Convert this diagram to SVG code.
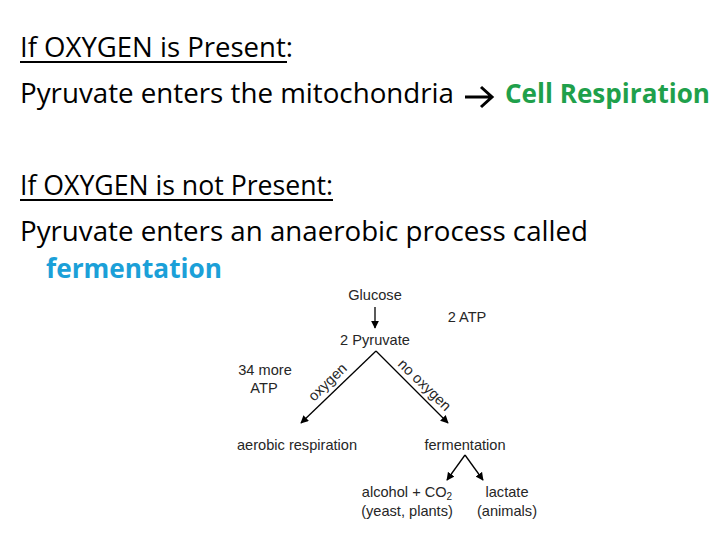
<svg xmlns="http://www.w3.org/2000/svg" width="720" height="540" viewBox="0 0 720 540">
<defs>
<style>
.h{font-family:"Open Sans","Liberation Sans",sans-serif;font-size:26.5px;fill:#000}
.d{font-family:"Liberation Sans",Arial,sans-serif;font-size:14.6px;fill:#262626}
.ln{stroke:#000;stroke-width:1.3;fill:none}
</style>
<marker id="ah" viewBox="0 0 10 10" refX="9" refY="5" markerWidth="8" markerHeight="8" orient="auto" markerUnits="userSpaceOnUse">
<path d="M0,0 L10,5 L0,10 z" fill="#000"/>
</marker>
</defs>
<rect width="720" height="540" fill="#fff"/>
<g id="heading1">
<text class="h" x="20" y="57" textLength="273" lengthAdjust="spacingAndGlyphs">If OXYGEN is Present:</text>
<line x1="20" y1="62" x2="287" y2="62" stroke="#000" stroke-width="1.8"/>
</g>
<g id="line2">
<text class="h" x="20" y="103" textLength="434" lengthAdjust="spacingAndGlyphs">Pyruvate enters the mitochondria</text>
<path d="M465,97 H492 M481,87 L492,97 L481,107" stroke="#000" stroke-width="3" fill="none"/>
<text class="h" x="505" y="103" textLength="205" lengthAdjust="spacingAndGlyphs" style="font-weight:bold;fill:#1fa04b">Cell Respiration</text>
</g>
<g id="heading2">
<text class="h" x="20" y="195" textLength="313" lengthAdjust="spacingAndGlyphs">If OXYGEN is not Present:</text>
<line x1="20" y1="200" x2="333" y2="200" stroke="#000" stroke-width="1.8"/>
</g>
<g id="line4">
<text class="h" x="20" y="241" textLength="568" lengthAdjust="spacingAndGlyphs">Pyruvate enters an anaerobic process called</text>
<text class="h" x="46" y="278" textLength="176" lengthAdjust="spacingAndGlyphs" style="font-weight:bold;fill:#1ba0d8">fermentation</text>
</g>
<g id="glucose"><text class="d" x="375" y="300" text-anchor="middle">Glucose</text></g>
<g id="atp2"><text class="d" x="467" y="322" text-anchor="middle">2 ATP</text></g>
<g id="pyruvate"><text class="d" x="375" y="345" text-anchor="middle">2 Pyruvate</text></g>
<g id="atp34"><text class="d" x="265" y="375" text-anchor="middle">34 more</text><text class="d" x="264" y="393" text-anchor="middle">ATP</text></g>
<g id="aerobic"><text class="d" x="297" y="450" text-anchor="middle">aerobic respiration</text></g>
<g id="ferm"><text class="d" x="465" y="450" text-anchor="middle">fermentation</text></g>
<g id="alcohol"><text class="d" x="407" y="497" text-anchor="middle">alcohol + CO<tspan font-size="10" dy="3">2</tspan></text><text class="d" x="407" y="516" text-anchor="middle">(yeast, plants)</text></g>
<g id="lactate"><text class="d" x="507" y="497" text-anchor="middle">lactate</text><text class="d" x="507" y="516" text-anchor="middle">(animals)</text></g>
<g id="connectors">
<line class="ln" x1="375" y1="307" x2="375" y2="328" marker-end="url(#ah)"/>
<line class="ln" x1="376" y1="351" x2="301" y2="423" marker-end="url(#ah)"/>
<line class="ln" x1="376" y1="351" x2="448" y2="423" marker-end="url(#ah)"/>
<line class="ln" x1="465" y1="455" x2="447" y2="480" marker-end="url(#ah)"/>
<line class="ln" x1="465" y1="455" x2="483" y2="480" marker-end="url(#ah)"/>
<text class="d" transform="translate(314,402) rotate(-44)">oxygen</text>
<text class="d" transform="translate(397,365) rotate(44)">no oxygen</text>
</g>
</svg>
